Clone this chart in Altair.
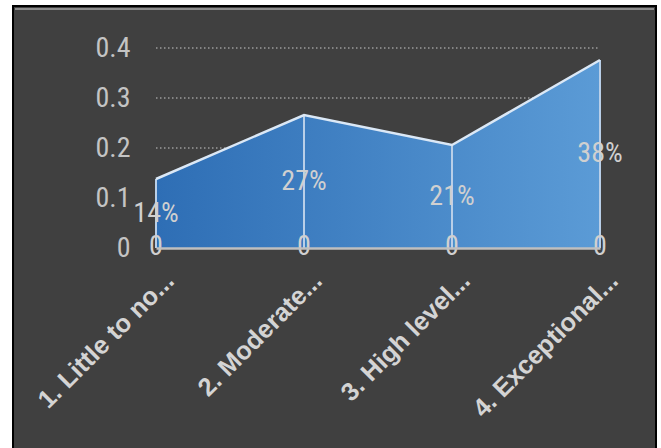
import altair as alt
import pandas as pd

categories = ["1. Little to no...", "2. Moderate...", "3. High level...", "4. Exceptional..."]
shares = [0.138, 0.266, 0.206, 0.376]
baseline_series = [0, 0, 0, 0]
y_ticks = [0, 0.1, 0.2, 0.3, 0.4]
grid_values = [0.1, 0.2, 0.3, 0.4]

df = pd.DataFrame({"cat": categories, "share": shares, "base": baseline_series})
grid_df = pd.DataFrame({"g": grid_values, "start": [categories[0]] * len(grid_values),
                        "end": [categories[-1]] * len(grid_values)})

NARROW = "Roboto Condensed, Liberation Sans Narrow, DejaVu Sans Condensed, sans-serif"
LABEL_COLOR = "#d0d0d0"

xscale = alt.Scale(type="point", domain=categories, padding=0)
yscale = alt.Scale(domain=[0, 0.4], nice=False)

x_axis = alt.Axis(title=None, labelAngle=-45, labelAlign="right", labelBaseline="alphabetic",
                  labelFont="Liberation Sans, Arial, sans-serif", labelFontWeight="bold",
                  labelFontSize=25.5, labelColor="#d4d4d4", labelPadding=34, labelOffset=19,
                  labelLimit=500, ticks=False, domainColor="#bfbfbf", domainWidth=2.5,
                  grid=False, zindex=1)
y_axis = alt.Axis(title=None, values=y_ticks, labelFont=NARROW, labelFontSize=28,
                  labelColor="#c4c4c4", labelPadding=26, ticks=False, domain=False, grid=False,
                  labelExpr="datum.value == 0 ? '0' : format(datum.value, '.1f')", zindex=1)

frame = alt.Chart(pd.DataFrame({"k": [0]})).mark_rect(
    fill="#404040", stroke="#000000", strokeWidth=2
).encode(x=alt.value(-143), x2=alt.value(500), y=alt.value(-42), y2=alt.value(600))

top_line = alt.Chart(pd.DataFrame({"k": [0]})).mark_rule(
    color="#a6a6a6", strokeWidth=1.5
).encode(x=alt.value(-141), x2=alt.value(498), y=alt.value(-39))

grid = alt.Chart(grid_df).mark_rule(color="#9a9a9a", strokeWidth=1.3, strokeDash=[1.5, 2.5]).encode(
    x=alt.X("start:N", scale=xscale, axis=x_axis, sort=categories),
    x2="end:N",
    y=alt.Y("g:Q", scale=yscale, axis=y_axis),
)

area = alt.Chart(df).mark_area(
    color=alt.Gradient(gradient="linear", x1=0, x2=1, y1=0, y2=0,
                       stops=[alt.GradientStop(color="#2E6EB5", offset=0),
                              alt.GradientStop(color="#5B9BD6", offset=1)])
).encode(x=alt.X("cat:N", scale=xscale, sort=categories), y=alt.Y("share:Q", scale=yscale))

drops = alt.Chart(df).mark_rule(color="#b9cfe8", strokeWidth=2).encode(
    x=alt.X("cat:N", scale=xscale, sort=categories), y=alt.Y("share:Q", scale=yscale), y2="base:Q"
)

outline = alt.Chart(df).mark_line(color="#dbe8f6", strokeWidth=2.5).encode(
    x=alt.X("cat:N", scale=xscale, sort=categories), y=alt.Y("share:Q", scale=yscale)
)

labels = alt.Chart(df).transform_calculate(mid="datum.share / 2").mark_text(
    font=NARROW, fontSize=28, color=LABEL_COLOR, baseline="middle", align="center"
).encode(x=alt.X("cat:N", scale=xscale, sort=categories), y=alt.Y("mid:Q", scale=yscale),
         text=alt.Text("share:Q", format=".0%"))

zeros = alt.Chart(df).mark_text(
    font=NARROW, fontSize=28, color=LABEL_COLOR, baseline="middle", align="center", dy=-1
).encode(x=alt.X("cat:N", scale=xscale, sort=categories), y=alt.Y("base:Q", scale=yscale),
         text=alt.Text("base:Q", format="d"))

chart = alt.layer(frame, top_line, grid, area, drops, outline, labels, zeros).properties(
    width=444, height=200,
    autosize=alt.AutoSizeParams(type="none"),
    padding={"left": 156, "top": 48, "right": 61, "bottom": 200},
    background="#ffffff",
).configure_view(stroke=None)

chart.save("out.html", embed_options={"renderer": "svg", "actions": False})
